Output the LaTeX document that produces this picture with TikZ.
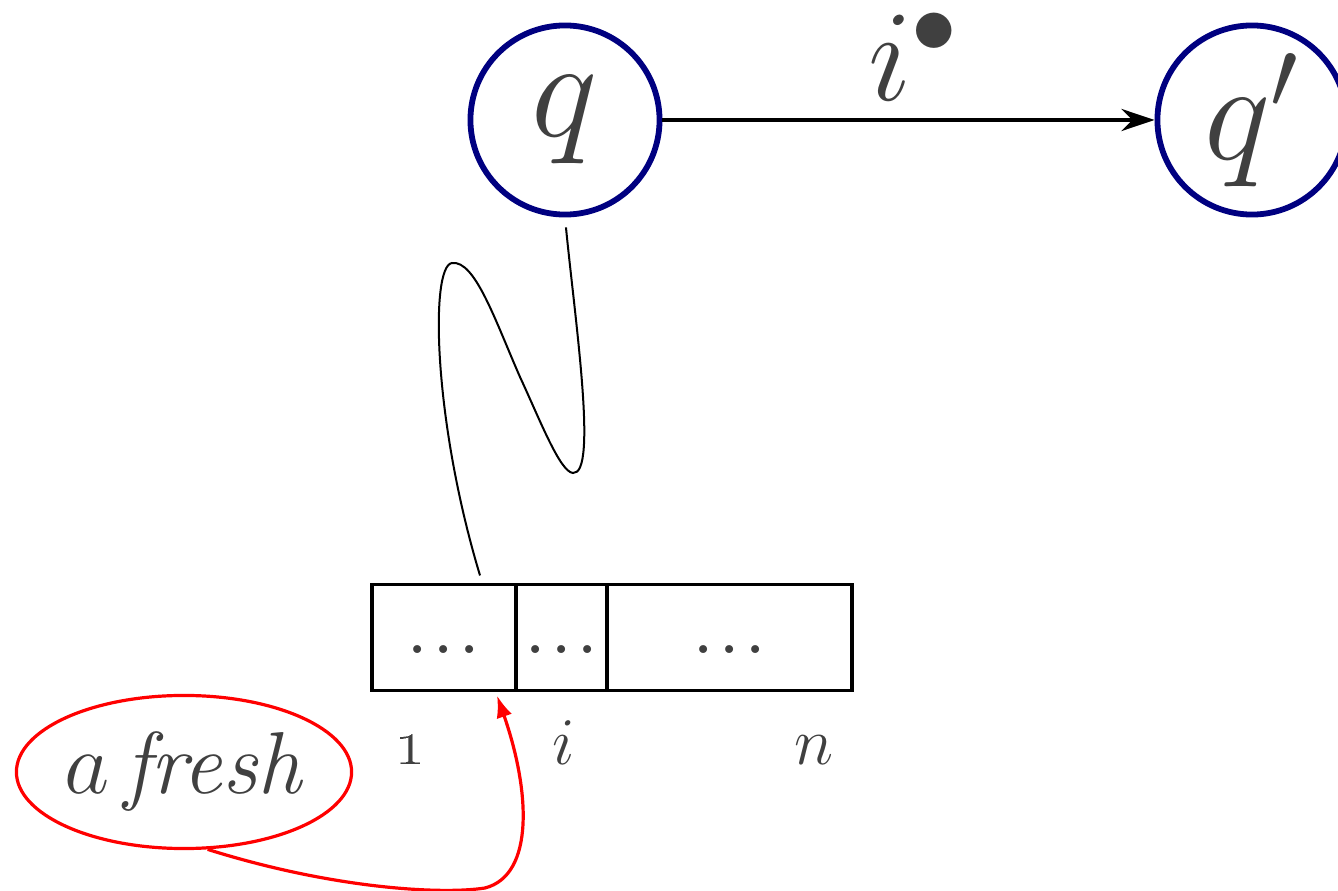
\RequirePackage{fix-cm}
\documentclass[tikz,border=0pt]{standalone}
\usetikzlibrary{arrows.meta,positioning,shapes.geometric}
\definecolor{navyring}{RGB}{0,0,128}
\definecolor{inkgray}{RGB}{64,64,64}

\begin{document}
\begin{tikzpicture}[x=0.01cm,y=-0.01cm,
state/.style={circle,draw=navyring,line width=0.058cm,minimum size=1.89cm,inner sep=0pt,
text=inkgray,font=\fontsize{40}{42}\selectfont},
cell/.style={draw,line width=0.036cm,minimum height=1.06cm,inner sep=0pt,outer sep=0pt,
text height=0.32cm,text depth=0pt,text=inkgray,font=\fontsize{14.5}{16}\selectfont\boldmath},
idx/.style={text=inkgray,anchor=base,font=\fontsize{19}{21}\selectfont},
trans/.style={-{Stealth[length=0.33cm,width=0.22cm]},line width=0.042cm},
wire/.style={line width=0.02cm},
freshnode/.style={ellipse,draw=red,line width=0.032cm,minimum width=3.35cm,minimum height=1.53cm,
inner xsep=-0.2cm,inner ysep=0pt,text=inkgray,font=\fontsize{25}{27}\selectfont},
redarr/.style={-{Latex[length=0.22cm,width=0.16cm]},draw=red,line width=0.032cm}]
\useasboundingbox (0,0) rectangle (1338,891);
% states and transition
\node[state] (q) at (565,120) {$q$};
\node[state] (qp) at (1252,120) {$q'$};
\draw[trans] (q) -- node[above=0.17cm,xshift=0.05cm,inner sep=0pt,text=inkgray,
font=\fontsize{37}{40}\selectfont] (lbl) {$i^{\bullet}$} (qp);
% the array
\node[cell,minimum width=1.44cm] (c1) at (444,637.5) {$\ldots$};
\node[cell,minimum width=0.91cm,right=0pt of c1] (c2) {$\ldots$};
\node[cell,minimum width=2.45cm,right=0pt of c2] (c3) {$\ldots$};
\node[idx] (one) at (410,765) {\oldstylenums{1}};
\node[idx] (ii) at (564,765) {$i$};
\node[idx] (nn) at (814,765) {$n$};
% link from q to the array
\draw[wire,shorten <=0.1cm] (q.south) .. controls (575,320) and (598,475) .. (573,473)
  .. controls (560,472) and (540,420) .. (520,377)
  .. controls (495,320) and (475,260) .. (452,263)
  .. controls (430,266) and (433,420) .. ([xshift=0.36cm,yshift=0.09cm]c1.north);
% fresh value
\node[freshnode] (fr) at (184,772) {$a$\,\textit{fresh}\hspace{0.26cm}};
\draw[redarr] (fr.-73) .. controls (330,888) and (440,895) .. (485,888)
  .. controls (535,875) and (530,790) .. ([xshift=-0.19cm,yshift=-0.05cm]c1.south east);
\end{tikzpicture}
\end{document}
